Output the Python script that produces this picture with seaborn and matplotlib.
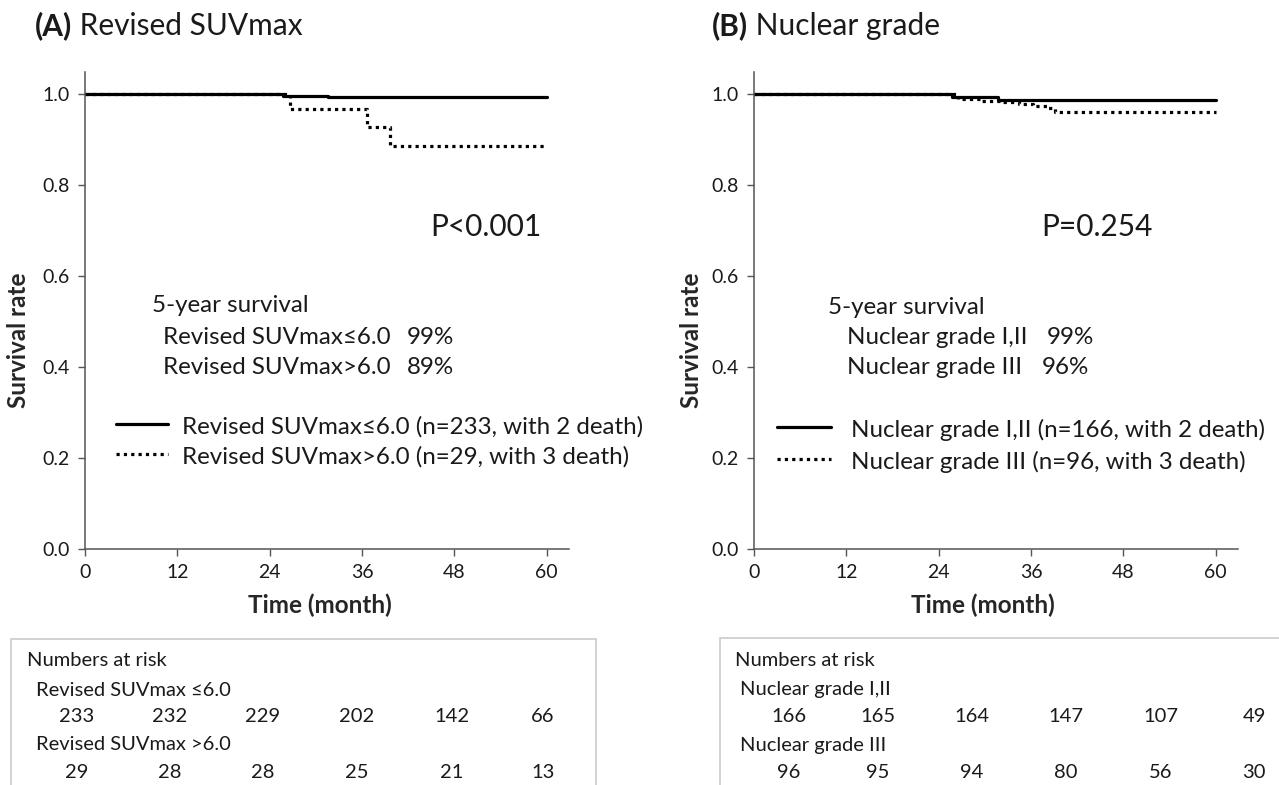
import matplotlib
matplotlib.use("Agg")
import matplotlib.pyplot as plt
import pandas as pd
import seaborn as sns
from matplotlib.lines import Line2D
from matplotlib.patches import Rectangle

# ---- Kaplan-Meier step points (month, survival probability) ----
suv_low_time = [0, 25.7, 31.6, 60]
suv_low_surv = [1.0, 0.996, 0.992, 0.992]
suv_high_time = [0, 26.6, 36.7, 39.7, 60]
suv_high_surv = [1.0, 0.966, 0.928, 0.885, 0.885]

grade12_time = [0, 25.7, 31.7, 60]
grade12_surv = [1.0, 0.994, 0.987, 0.987]
grade3_time = [0, 26.5, 29.5, 32.2, 34.5, 36.3, 38.2, 39.1, 60]
grade3_surv = [1.0, 0.989, 0.985, 0.981, 0.977, 0.974, 0.968, 0.961, 0.961]

time_ticks = [0, 12, 24, 36, 48, 60]
surv_ticks = [0.0, 0.2, 0.4, 0.6, 0.8, 1.0]

# ---- numbers at risk at 0, 12, 24, 36, 48, 60 months ----
suv_low_risk = [233, 232, 229, 202, 142, 66]
suv_high_risk = [29, 28, 28, 25, 21, 13]
grade12_risk = [166, 165, 164, 147, 107, 49]
grade3_risk = [96, 95, 94, 80, 56, 30]

# ---- text ----
panel_tags = ["(A)", "(B)"]
panel_titles = [" Revised SUVmax", " Nuclear grade"]
p_values = ["P<0.001", "P=0.254"]
five_year_labels = [["Revised SUVmax\u22646.0", "Revised SUVmax>6.0"],
                    ["Nuclear grade I,II", "Nuclear grade III"]]
five_year_values = [["99%", "89%"], ["99%", "96%"]]
legend_labels = [["Revised SUVmax\u22646.0 (n=233, with 2 death)",
                  "Revised SUVmax>6.0 (n=29, with 3 death)"],
                 ["Nuclear grade I,II (n=166, with 2 death)",
                  "Nuclear grade III (n=96, with 3 death)"]]
risk_row_labels = [["Revised SUVmax \u22646.0", "Revised SUVmax >6.0"],
                   ["Nuclear grade I,II", "Nuclear grade III"]]

W, H = 1279, 785
sns.set_style("ticks")
plt.rcParams["font.family"] = ["Lato", "DejaVu Sans"]
plt.rcParams["text.color"] = "#1a1a1a"

fig = plt.figure(figsize=(W / 100, H / 100), dpi=100)
renderer = fig.canvas.get_renderer()


def P(x, y):
    """pixel position -> figure fraction"""
    return x / W, 1 - y / H


AX_W, AX_H = 484, 477
axes_left = [85, 754]
ax_top = 72

panels = [
    dict(t1=suv_low_time, s1=suv_low_surv, t2=suv_high_time, s2=suv_high_surv,
         r1=suv_low_risk, r2=suv_high_risk),
    dict(t1=grade12_time, s1=grade12_surv, t2=grade3_time, s2=grade3_surv,
         r1=grade12_risk, r2=grade3_risk),
]

# layout of the annotation blocks per panel (pixels)
lay = [
    dict(title=35, p=430, fy=(152, 305), fl=163, fv=(407, 407), leg=(116, 168, 182), legy=(424, 454),
         ylab=-0.138, xlab=0.486, box=(11, 596, 639), tab=(27, 36),
         nums=[77, 170, 263, 357, 452, 543]),
    dict(title=712, p=1041, fy=(828, 307), fl=847, fv=(1047, 1042), leg=(777, 831, 851), legy=(427, 459),
         ylab=-0.130, xlab=0.473, box=(720, 1300, 638), tab=(735, 740),
         nums=[789, 878, 972, 1066, 1161, 1254]),
]

DOT = (0, (1, 1.3))
LW = 2.3
FS_TAB = 14.5
FS_NOTE = 17.4

for i, pan in enumerate(panels):
    L = lay[i]
    ax = fig.add_axes([axes_left[i] / W, 1 - (ax_top + AX_H) / H, AX_W / W, AX_H / H])
    g1, g2 = legend_labels[i]
    df = pd.concat([
        pd.DataFrame({"time": pan["t2"], "surv": pan["s2"], "group": g2}),
        pd.DataFrame({"time": pan["t1"], "surv": pan["s1"], "group": g1}),
    ], ignore_index=True)
    sns.lineplot(data=df, x="time", y="surv", style="group", style_order=[g2, g1],
                 dashes={g1: "", g2: (1, 1.3)}, color="black", linewidth=LW,
                 drawstyle="steps-post", estimator=None, sort=False, legend=False, ax=ax)

    ax.set_xlim(0, 62.9)
    ax.set_ylim(0, 1.048)
    ax.set_xticks(time_ticks)
    ax.set_yticks(surv_ticks)
    ax.set_yticklabels([f"{v:.1f}" for v in surv_ticks])
    sns.despine(ax=ax)
    for s in ("left", "bottom"):
        ax.spines[s].set_color("#555555")
        ax.spines[s].set_linewidth(1.1)
    ax.tick_params(direction="out", length=5, width=1, color="#555555",
                   labelsize=14, labelcolor="#1a1a1a", pad=6)
    ax.set_xlabel("Time (month)", fontsize=17.5, fontweight="bold")
    ax.set_ylabel("Survival rate", fontsize=17.5, fontweight="bold")
    ax.xaxis.set_label_coords(L["xlab"], -0.117)
    ax.xaxis.label.set_va("center")
    ax.yaxis.set_label_coords(L["ylab"], 0.438)
    ax.yaxis.label.set_va("center")

    # title: bold tag followed by regular text on the same baseline
    tag = fig.text(*P(L["title"], 35), panel_tags[i], fontsize=21.5, fontweight="bold",
                   ha="left", va="baseline")
    tag_right = tag.get_window_extent(renderer).x1
    fig.text(tag_right / W, 1 - 35 / H, panel_titles[i], fontsize=21.5, ha="left", va="baseline")

    # p value
    fig.text(*P(L["p"], 236), p_values[i], fontsize=21.5, ha="left", va="baseline")

    # 5-year survival
    fig.text(*P(*L["fy"]), "5-year survival", fontsize=FS_NOTE, ha="left", va="center")
    for k, yy in enumerate((337, 368)):
        fig.text(*P(L["fl"], yy), five_year_labels[i][k], fontsize=FS_NOTE, ha="left", va="center")
        fig.text(*P(L["fv"][k], yy), five_year_values[i][k], fontsize=FS_NOTE, ha="left", va="center")

    # legend
    x0, x1, xt = L["leg"]
    for k, yy in enumerate(L["legy"]):
        ls = "-" if k == 0 else DOT
        fig.add_artist(Line2D([x0 / W, x1 / W], [1 - yy / H, 1 - yy / H], color="black",
                              linewidth=LW, linestyle=ls, transform=fig.transFigure))
        fig.text(*P(xt, yy + 3), legend_labels[i][k], fontsize=FS_NOTE, ha="left", va="center")

    # numbers-at-risk table
    bl, br, bt = L["box"]
    fig.add_artist(Rectangle(P(bl, H + 20), (br - bl) / W, (H + 20 - bt) / H,
                             transform=fig.transFigure, facecolor="none",
                             edgecolor="#cfcfcf", linewidth=1.3, clip_on=False))
    fig.text(*P(L["tab"][0], 660), "Numbers at risk", fontsize=FS_TAB, ha="left", va="center")
    fig.text(*P(L["tab"][1], 690), risk_row_labels[i][0], fontsize=FS_TAB, ha="left", va="center")
    fig.text(*P(L["tab"][1], 745), risk_row_labels[i][1], fontsize=FS_TAB, ha="left", va="center")
    for xx, n1, n2 in zip(L["nums"], pan["r1"], pan["r2"]):
        fig.text(*P(xx, 717), str(n1), fontsize=FS_TAB, ha="center", va="center")
        fig.text(*P(xx, 773), str(n2), fontsize=FS_TAB, ha="center", va="center")

fig.savefig("out.png", dpi=100, facecolor="white")
